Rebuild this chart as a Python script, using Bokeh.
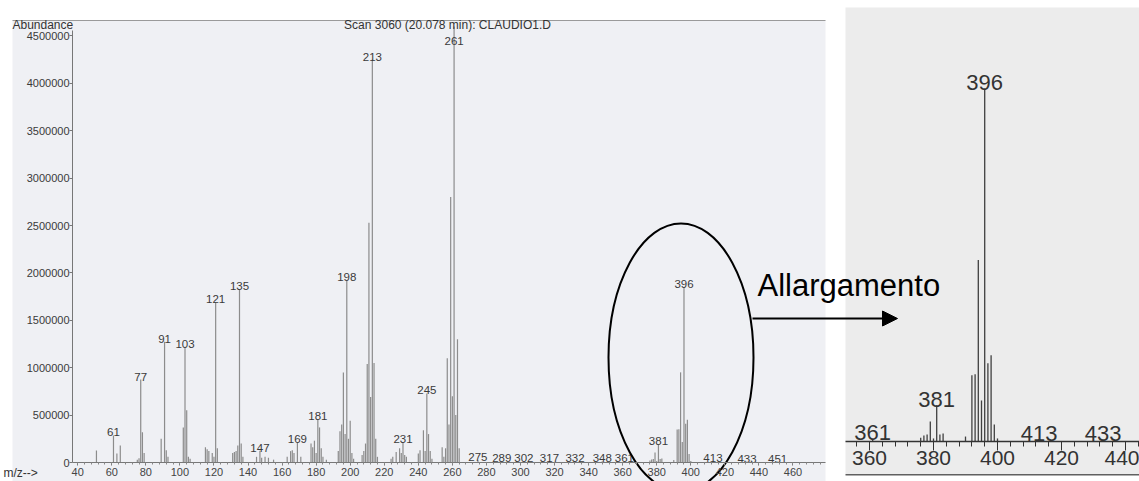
from bokeh.plotting import figure
from bokeh.models import (Range1d, LinearAxis, SingleIntervalTicker, BasicTickFormatter,
                          BoxAnnotation, Label, Arrow, NormalHead, ColumnDataSource)
from bokeh.core.properties import value
from bokeh.embed import file_html
from bokeh.resources import INLINE

# ---------------- data ----------------
mz = [51, 61, 63, 65, 75, 76, 77, 78, 79, 89, 91, 92, 93,
      102, 103, 104, 105, 106, 115, 116, 117, 119, 120, 121, 122,
      131, 132, 133, 134, 135, 136, 137, 145, 147, 148, 150, 152, 155,
      163, 165, 166, 167, 169, 171, 177, 178, 179, 180, 181, 182, 183, 184, 186,
      193, 194, 195, 196, 197, 198, 199, 200, 201, 202,
      207, 208, 209, 210, 211, 212, 213, 214, 215, 216,
      224, 225, 227, 229, 230, 231, 232, 233,
      240, 241, 243, 244, 245, 246, 247, 248,
      254, 255, 256, 257, 258, 259, 260, 261, 262, 263, 264,
      275, 289, 302, 317, 332, 348, 361,
      376, 377, 378, 379, 380, 381, 382, 383, 390,
      392, 393, 394, 395, 396, 397, 398, 399, 400,
      413, 433, 451]
abundance = [127000, 285000, 95000, 180000, 30000, 45000, 875000, 320000, 100000, 250000, 1275000, 130000, 60000,
             370000, 1220000, 550000, 60000, 40000, 160000, 140000, 120000, 100000, 60000, 1690000, 150000,
             100000, 110000, 120000, 180000, 1825000, 200000, 60000, 60000, 125000, 50000, 60000, 50000, 30000,
             60000, 120000, 130000, 100000, 215000, 60000, 200000, 160000, 230000, 100000, 460000, 370000, 150000, 60000, 30000,
             120000, 330000, 400000, 950000, 300000, 1920000, 250000, 440000, 100000, 40000,
             80000, 120000, 200000, 1040000, 2530000, 690000, 4250000, 1050000, 250000, 60000,
             40000, 60000, 110000, 150000, 100000, 215000, 80000, 60000,
             95000, 130000, 340000, 120000, 728000, 300000, 120000, 40000,
             160000, 60000, 150000, 1100000, 400000, 2800000, 700000, 4600000, 500000, 1300000, 150000,
             25000, 15000, 12000, 12000, 12000, 12000, 15000,
             20000, 31500, 36800, 105000, 16000, 190000, 36800, 42000, 26000,
             347000, 352000, 951000, 215000, 1850000, 410000, 452000, 89000, 16000,
             12000, 10000, 10000]
labeled_mz = [61, 77, 91, 103, 121, 135, 147, 169, 181, 198, 213, 231, 245, 261,
              275, 289, 302, 317, 332, 348, 361, 381, 396, 413, 433, 451]

title_text = "Scan 3060 (20.078 min): CLAUDIO1.D"
y_title = "Abundance"
x_title = "m/z-->"
zoom_title = "Allargamento"

# ---------------- layout helpers (picture pixels -> data) ----------------
W, H = 1139, 481
OX, OY = 0, 0
M_X0_PX, M_X0, M_XS = 239.0, 135.0, 1.703          # main: px per m/z
M_Y0_PX, M_YS = 462.0, 47.4 / 500000.0              # main: px per count
I_X0_PX, I_X0, I_XS = 933.0, 380.0, 3.2             # inset
I_Y0_PX, I_YS = 441.0, 353.0 / 1850000.0


def m_x(px):
    return M_X0 + (px - M_X0_PX) / M_XS


def m_y(py):
    return (M_Y0_PX - py) / M_YS


def i_x(px):
    return I_X0 + (px - I_X0_PX) / I_XS


def i_y(py):
    return (I_Y0_PX - py) / I_YS


FONT = "Liberation Sans"

p = figure(width=W, height=H, output_backend="svg", toolbar_location=None,
           x_range=Range1d(m_x(OX), m_x(OX + W)), y_range=Range1d(m_y(OY + H), m_y(OY)),
           x_axis_location=None, y_axis_location=None, title=None, min_border=0)
p.extra_x_ranges = {"ix": Range1d(i_x(OX), i_x(OX + W))}
p.extra_y_ranges = {"iy": Range1d(i_y(OY + H), i_y(OY))}
p.outline_line_color = None
p.background_fill_color = "white"
p.border_fill_color = "white"
p.grid.visible = False

# scanned page backgrounds
p.add_layout(BoxAnnotation(left=m_x(12), right=m_x(825), top=m_y(20), bottom=m_y(500),
                           fill_color="#eff0f4", fill_alpha=1, line_color=None, level="underlay"))
p.add_layout(BoxAnnotation(left=m_x(12), right=m_x(825), top=m_y(19.5), bottom=m_y(20.6),
                           fill_color="#9a9a9a", fill_alpha=1, line_color=None, level="underlay"))
p.add_layout(BoxAnnotation(left=i_x(845), right=i_x(1150), top=i_y(7), bottom=i_y(474),
                           x_range_name="ix", y_range_name="iy",
                           fill_color="#ececec", fill_alpha=1, line_color=None, level="underlay"))
p.add_layout(BoxAnnotation(left=i_x(845), right=i_x(1150), top=i_y(473.4), bottom=i_y(475),
                           x_range_name="ix", y_range_name="iy",
                           fill_color="#606060", fill_alpha=1, line_color=None, level="underlay"))

ab_of = dict(zip(mz, abundance))

# ---------------- main spectrum ----------------
src = ColumnDataSource(dict(mz=mz, ab=abundance, base=[0] * len(mz)))
p.segment(x0="mz", y0="base", x1="mz", y1="ab", source=src, line_color="#8c8c8c", line_width=1.2)

cap = m_y(43)
lab_src = ColumnDataSource(dict(x=labeled_mz, y=[min(ab_of[m], cap) for m in labeled_mz],
                                t=[str(m) for m in labeled_mz]))
p.text(x="x", y="y", text="t", source=lab_src, text_align="center", text_baseline="alphabetic",
       y_offset=-3, text_font=value(FONT), text_font_size="11.5px", text_color="#3a3a3a")

xa = LinearAxis(ticker=SingleIntervalTicker(interval=20, num_minor_ticks=5),
                fixed_location=0, bounds=(m_x(72), m_x(825)))
xa.axis_line_color = "#777777"
xa.major_tick_line_color = "#777777"
xa.minor_tick_line_color = "#888888"
xa.major_tick_out, xa.major_tick_in = 3, 0
xa.minor_tick_out, xa.minor_tick_in = 2, 0
xa.major_label_standoff = 2
xa.major_label_text_font = FONT
xa.major_label_text_font_size = "11px"
xa.major_label_text_color = "#444444"
p.add_layout(xa, "below")

ya = LinearAxis(ticker=SingleIntervalTicker(interval=500000, num_minor_ticks=0),
                fixed_location=m_x(72), bounds=(0, m_y(30)),
                formatter=BasicTickFormatter(use_scientific=False))
ya.axis_line_color = "#777777"
ya.major_tick_line_color = "#777777"
ya.major_tick_out, ya.major_tick_in = 3, 0
ya.major_label_standoff = 0
ya.major_label_text_font = FONT
ya.major_label_text_font_size = "11px"
ya.major_label_text_color = "#3a3a3a"
p.add_layout(ya, "left")

# ---------------- enlarged view ----------------
lo, hi = i_x(845), i_x(OX + W)
ins_mz = [m for m in mz if lo <= m <= hi]
ins_src = ColumnDataSource(dict(mz=ins_mz, ab=[ab_of[m] for m in ins_mz], base=[0] * len(ins_mz)))
p.segment(x0="mz", y0="base", x1="mz", y1="ab", source=ins_src, x_range_name="ix", y_range_name="iy",
          line_color="#404040", line_width=1.3)

ins_lab = [m for m in labeled_mz if lo <= m <= hi]
ins_lab_src = ColumnDataSource(dict(x=ins_lab, y=[ab_of[m] for m in ins_lab], t=[str(m) for m in ins_lab]))
p.text(x="x", y="y", text="t", source=ins_lab_src, x_range_name="ix", y_range_name="iy",
       text_align="center", text_baseline="alphabetic", y_offset=-6,
       text_font=value(FONT), text_font_size="22px", text_color="#333333")

ia = LinearAxis(x_range_name="ix", y_range_name="iy",
                ticker=SingleIntervalTicker(interval=20, num_minor_ticks=5),
                fixed_location=0, bounds=(lo, i_x(1150)))
ia.axis_line_color = "#333333"
ia.axis_line_width = 1.3
ia.major_tick_line_color = "#333333"
ia.minor_tick_line_color = "#333333"
ia.major_tick_out, ia.major_tick_in = 9, 0
ia.minor_tick_out, ia.minor_tick_in = 5, 0
ia.major_label_standoff = 0
ia.major_label_text_font = FONT
ia.major_label_text_font_size = "21px"
ia.major_label_text_color = "#333333"
p.add_layout(ia, "below")

# ---------------- texts and annotations ----------------
p.add_layout(Label(x=m_x(12), y=m_y(24.5), text=y_title, text_align="left", text_baseline="middle",
                   text_font=FONT, text_font_size="12px", text_color="#333333"))
p.add_layout(Label(x=m_x(447), y=m_y(24.5), text=title_text, text_align="center", text_baseline="middle",
                   text_font=FONT, text_font_size="12px", text_color="#333333"))
p.add_layout(Label(x=m_x(3), y=m_y(472), text=x_title, text_align="left", text_baseline="middle",
                   text_font=FONT, text_font_size="12px", text_color="#333333"))
p.add_layout(Label(x=m_x(757), y=m_y(285), text=zoom_title, text_align="left", text_baseline="alphabetic",
                   text_font=FONT, text_font_size="31px", text_color="black"))

p.ellipse(x=[m_x(680.5)], y=[m_y(357)], width=145 / M_XS, height=268 / M_YS,
          fill_color=None, line_color="black", line_width=2)

p.add_layout(Arrow(x_start=m_x(752), y_start=m_y(318), x_end=m_x(897), y_end=m_y(318),
                   line_color="black", line_width=2,
                   end=NormalHead(size=15, fill_color="black", line_color="black")))

open("out.html", "w").write(file_html(p, INLINE))
